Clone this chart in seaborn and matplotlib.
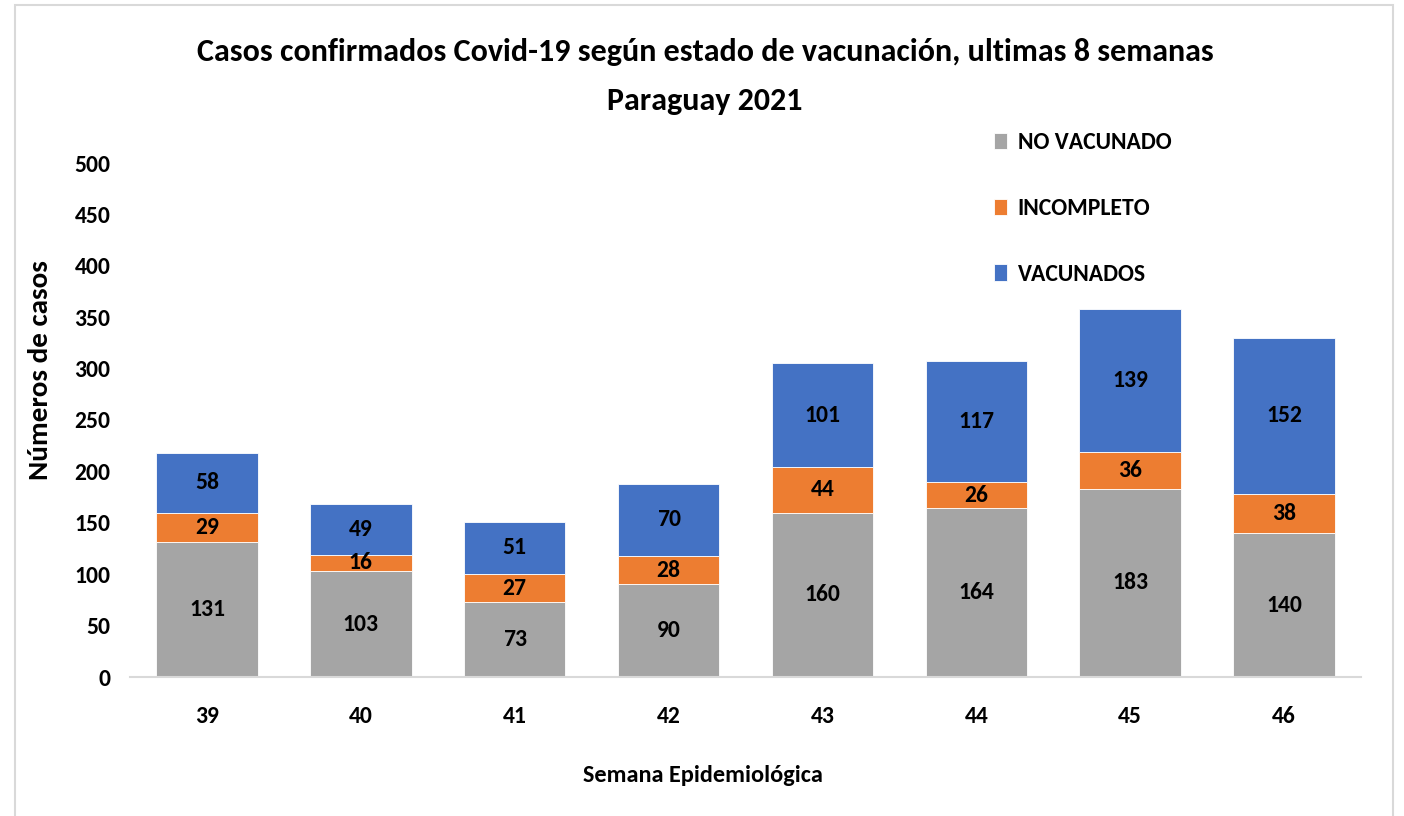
import matplotlib
matplotlib.use("Agg")
import matplotlib.pyplot as plt
from matplotlib.patches import Rectangle
import seaborn as sns
import pandas as pd
import numpy as np

semanas = ["39", "40", "41", "42", "43", "44", "45", "46"]
no_vacunado = [131, 103, 73, 90, 160, 164, 183, 140]
incompleto = [29, 16, 27, 28, 44, 26, 36, 38]
vacunados = [58, 49, 51, 70, 101, 117, 139, 152]
series_names = ["NO VACUNADO", "INCOMPLETO", "VACUNADOS"]
colors = ["#A5A5A5", "#ED7D31", "#4472C4"]
yticks = [0, 50, 100, 150, 200, 250, 300, 350, 400, 450, 500]

sns.set_theme(style="white")
FONT = ["Carlito", "Open Sans Condensed", "DejaVu Sans"]
plt.rcParams["font.family"] = FONT
plt.rcParams["font.weight"] = "bold"
plt.rcParams["text.color"] = "black"
plt.rcParams["xtick.color"] = "black"
plt.rcParams["ytick.color"] = "black"

fig = plt.figure(figsize=(14.04, 8.16), dpi=100)
fig.patch.set_facecolor("white")
ax = fig.add_axes([130/1404, 1-677/816, (1361-130)/1404, (677-163)/816])

df = pd.DataFrame({"semana": semanas, "nv": no_vacunado, "inc": incompleto, "vac": vacunados})
bottoms = np.zeros(len(semanas))
for col, name, c in zip(["nv", "inc", "vac"], series_names, colors):
    sns.barplot(data=df, x="semana", y=col, color=c, width=0.66, bottom=bottoms,
                ax=ax, label=name, edgecolor="white", linewidth=0.6, saturation=1)
    bottoms = bottoms + df[col].values

for cont in ax.containers:
    ax.bar_label(cont, label_type="center", fontsize=17, fontweight="bold", color="black")

ax.set_ylim(0, 500)
ax.set_xlim(-0.5, len(semanas) - 0.5)
ax.set_yticks(yticks)
ax.set_yticklabels([str(v) for v in yticks], fontsize=17, fontweight="bold")
ax.tick_params(axis="x", labelsize=17, pad=21, length=0)
ax.tick_params(axis="y", pad=14, length=0)
for lbl in ax.get_xticklabels():
    lbl.set_fontweight("bold")
for s in ["top", "right", "left"]:
    ax.spines[s].set_visible(False)
ax.spines["bottom"].set_color("#D9D9D9")
ax.spines["bottom"].set_linewidth(1.5)
ax.set_xlabel("")
ax.set_ylabel("")

fig.text(40/1404, 1-370/816, "Números de casos", rotation=90, ha="center", va="center",
         fontsize=21, fontweight="bold")
fig.text(703/1404, 1-775/816, "Semana Epidemiológica", ha="center", va="center",
         fontsize=17.5, fontweight="bold")
fig.text(705/1404, 1-52/816, "Casos confirmados Covid-19 según estado de vacunación, ultimas 8 semanas",
         ha="center", va="center", fontsize=23, fontweight="bold")
fig.text(705/1404, 1-101/816, "Paraguay 2021", ha="center", va="center",
         fontsize=23, fontweight="bold")

handles, labels = ax.get_legend_handles_labels()
leg = fig.legend(handles, labels, loc="upper left", bbox_to_anchor=(973/1404, 1-111/816),
                 frameon=False, fontsize=17, handlelength=0.55, handleheight=0.7,
                 handletextpad=0.45, labelspacing=1.9)
for t in leg.get_texts():
    t.set_fontweight("bold")
if ax.get_legend() is not None:
    ax.get_legend().remove()

fig.add_artist(Rectangle((15/1404, -0.01), (1393-15)/1404, 1-5/816+0.01,
                         transform=fig.transFigure, fill=False, edgecolor="#D9D9D9", linewidth=1.5))

fig.savefig("out.png", dpi=100, facecolor="white")
